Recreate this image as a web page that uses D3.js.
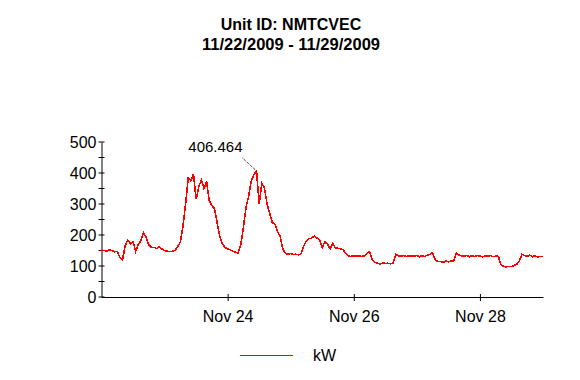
<!DOCTYPE html>
<html>
<head>
<meta charset="utf-8">
<script src="https://cdn.jsdelivr.net/npm/d3@7"></script>
<style>
  html, body { margin: 0; padding: 0; background: #fff; }
  svg { display: block; font-family: "Liberation Sans", Arial, sans-serif; }
</style>
</head>
<body>
<svg id="chart" width="580" height="380"></svg>
<script>
// ---- data ----
const titleLines = ["Unit ID: NMTCVEC", "11/22/2009 - 11/29/2009"];
const seriesName = "kW";
const startDate = "2009-11-22T00:00:00";
const endDate = "2009-11-29T00:00:00";
// hourly kW readings starting 11/22/2009 00:00
const kwValues = [
  152, 150, 148, 152, 149, 146, 147, 128, 120, 165, 184, 172,
  178, 148, 170, 182, 208, 192, 168, 160, 160, 156, 162, 155,
  150, 148, 146, 148, 150, 162, 178, 228, 300, 385, 375, 397,
  315, 355, 378, 350, 372, 310, 295, 285, 240, 195, 172, 160,
  155, 152, 148, 144, 142, 168, 225, 290, 325, 375, 395, 406.464,
  300, 367, 352, 300, 270, 240, 235, 210, 195, 155, 141, 138,
  140, 137, 138, 136, 140, 165, 182, 188, 190, 197, 190, 185,
  160, 178, 170, 155, 172, 158, 157, 155, 152, 140, 132, 131,
  133, 132, 132, 131, 133, 140, 146, 120, 112, 109, 106, 110,
  108, 109, 107, 110, 138, 133, 131, 134, 130, 133, 132, 131,
  134, 130, 133, 131, 135, 138, 143, 119, 115, 114, 112, 116,
  113, 117, 115, 142, 136, 133, 131, 134, 130, 133, 131, 134,
  132, 130, 133, 131, 134, 130, 132, 131, 105, 99, 97, 99,
  98, 102, 105, 116, 138, 134, 131, 135, 130, 133, 129, 131, 130
];
const yMajorTicks = [0, 100, 200, 300, 400, 500];
const yMinorTicks = [50, 150, 250, 350, 450];
const xTickDates = ["2009-11-24T00:00:00", "2009-11-26T00:00:00", "2009-11-28T00:00:00"];
const peakLabel = "406.464";

// ---- build ----
const parse = d3.isoParse;
const t0 = parse(startDate);
const data = kwValues.map((v, i) => ({ t: d3.timeHour.offset(t0, i), v }));

const svg = d3.select("#chart");
const x = d3.scaleTime().domain([t0, parse(endDate)]).range([101.5, 543]);
const y = d3.scaleLinear().domain([0, 500]).range([297, 142]);

// title
svg.append("g").selectAll("text").data(titleLines).join("text")
  .attr("x", 291).attr("y", (d, i) => 30 + i * 20)
  .attr("text-anchor", "middle")
  .attr("font-size", (d, i) => i === 0 ? 16 : 16.5).attr("font-weight", "bold")
  .text(d => d);

// y axis
const yAxis = svg.append("g").attr("transform", `translate(${x.range()[0]},0)`);
yAxis.call(d3.axisLeft(y).tickValues(yMajorTicks).tickSize(0).tickPadding(5).tickFormat(d3.format("d")));
yAxis.select(".domain").attr("stroke", "#000");
yAxis.selectAll(".tick text").attr("font-size", 16).attr("fill", "#000")
  .attr("font-family", "Liberation Sans, Arial, sans-serif");
yAxis.selectAll(".ytk").data(yMajorTicks.concat(yMinorTicks)).join("line")
  .attr("class", "ytk")
  .attr("x1", -3).attr("x2", 3)
  .attr("y1", d => y(d)).attr("y2", d => y(d))
  .attr("stroke", "#000");

// x axis
const xAxis = svg.append("g").attr("transform", `translate(0,${y(0)})`);
xAxis.call(d3.axisBottom(x).tickValues(xTickDates.map(parse)).tickSize(0).tickPadding(14)
  .tickFormat(d3.timeFormat("%b %d")));
xAxis.select(".domain").attr("stroke", "#000");
xAxis.selectAll(".tick text").attr("font-size", 16).attr("fill", "#000")
  .attr("font-family", "Liberation Sans, Arial, sans-serif");
xAxis.selectAll(".tick").append("line")
  .attr("y1", -3).attr("y2", 4).attr("stroke", "#000");

// line
const line = d3.line().x(d => x(d.t)).y(d => y(d.v)).curve(d3.curveLinear);
svg.append("path").datum(data)
  .attr("fill", "none").attr("stroke", "#ff0000").attr("stroke-width", 1.6)
  .attr("shape-rendering", "crispEdges")
  .attr("d", line);

// peak annotation
const peak = data.reduce((a, b) => (b.v > a.v ? b : a));
const px = x(peak.t), py = y(peak.v);
svg.append("line")
  .attr("x1", px - 14).attr("y1", py - 13).attr("x2", px).attr("y2", py)
  .attr("stroke", "#000").attr("stroke-width", 1).attr("stroke-dasharray", "1,1");
svg.append("text")
  .attr("x", px - 14).attr("y", py - 19)
  .attr("text-anchor", "end").attr("font-size", 15)
  .text(peakLabel);

// legend
svg.append("line").attr("x1", 240).attr("x2", 293).attr("y1", 355.5).attr("y2", 355.5)
  .attr("stroke", "#ff0000").attr("stroke-width", 1).attr("shape-rendering", "crispEdges");
svg.append("text").attr("x", 313).attr("y", 361).attr("font-size", 16).text(seriesName);
</script>
</body>
</html>
